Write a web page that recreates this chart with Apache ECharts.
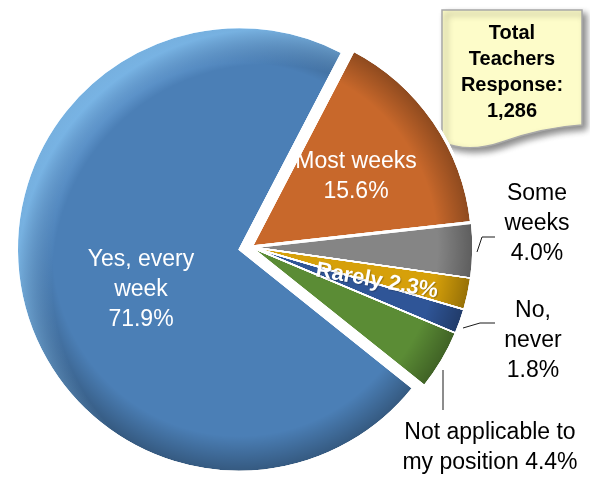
<!DOCTYPE html>
<html>
<head>
<meta charset="utf-8">
<script src="https://cdn.jsdelivr.net/npm/echarts@6/dist/echarts.min.js"></script>
<style>
  html, body { margin: 0; padding: 0; background: #ffffff; }
  #chart { width: 590px; height: 478px; }
</style>
</head>
<body>
<div id="chart"></div>
<script>
// Survey answers, listed clockwise from the top of the pie
const categories = ['Most weeks', 'Some weeks', 'Rarely', 'No, never', 'Not applicable to my position', 'Yes, every week'];
const shares = [15.6, 4.0, 2.3, 1.8, 4.4, 71.9];
// Label wording, with the line breaks used on the chart
const labelNames = ['Most weeks', 'Some\nweeks', 'Rarely', 'No,\nnever', 'Not applicable to\nmy position', 'Yes, every\nweek'];
const labelJoin = ['\n', '\n', ' ', '\n', ' ', '\n'];
// Call-out note text
const totalLines = ['Total', 'Teachers', 'Response:', '1,286'];

// ---- styling / layout ----
const sliceColors = ['#c8682b', '#858585', '#d6a00a', '#2f5597', '#5b8c35', '#4b7fb6'];
const CX = 251, CY = 247, R = 222;
const START = 62.5;          // degrees, echarts convention (ccw from 3 o'clock)
const EXPLODE = 12;          // pull-out distance of the big slice
const explodedIndex = 5;
const FONT = '"Liberation Sans", Arial, sans-serif';
const labelSpots = [
  { x: 356, y: 177, color: '#ffffff' },
  { x: 537, y: 224, color: '#000000', line: [[477, 252], [482, 237], [495, 237]] },
  { x: 377, y: 281, color: '#ffffff', bold: true, rotate: -10 },
  { x: 533, y: 341, color: '#000000', line: [[463, 328], [480, 323], [495, 323]] },
  { x: 490, y: 448, color: '#000000', line: [[443, 370], [443, 390], [443, 410]] },
  { x: 141, y: 290, color: '#ffffff' }
];

// centre of the pulled-out slice: shift along its mid angle
const total = shares.reduce((a, b) => a + b, 0);
const before = shares.slice(0, explodedIndex).reduce((a, b) => a + b, 0);
const midDeg = START - (before + shares[explodedIndex] / 2) / total * 360;
const EX = CX + Math.cos(midDeg * Math.PI / 180) * EXPLODE;
const EY = CY - Math.sin(midDeg * Math.PI / 180) * EXPLODE;

// Note-paper outline with a wavy bottom edge
const NoteShape = echarts.graphic.extendShape({
  shape: { x: 0, y: 0, width: 0, height: 0 },
  buildPath: function (ctx, s) {
    const l = s.x, t = s.y, r = s.x + s.width, b = s.y + s.height;
    ctx.moveTo(l, t);
    ctx.lineTo(r, t);
    ctx.lineTo(r, b - 22);
    ctx.bezierCurveTo(r - 30, b - 20, r - 55, b - 14, r - 80, b - 5);
    ctx.bezierCurveTo(r - 100, b + 2, r - 122, b + 3, l, b - 5);
    ctx.closePath();
  }
});
echarts.graphic.registerShape('noteShape', NoteShape);

function radial(x, y, r, stops) {
  return { type: 'radial', x: x, y: y, r: r, global: true,
    colorStops: stops.map(s => ({ offset: s[0], color: s[1] })) };
}
const CLEAR = 'rgba(0,0,0,0)';
function borderOf(i) { return i === 0 ? 3 : 1.5; }

// Fill for slice i in each shading layer, given the slice's own centre
const layers = [
  (i, cx, cy) => sliceColors[i],
  (i, cx, cy) => radial(cx, cy, R, [[0, CLEAR], [0.84, CLEAR], [1, 'rgba(0,0,0,0.30)']]),
  (i, cx, cy) => i === explodedIndex
    ? radial(cx + 28, cy + 30, R + 28, [[0, 'rgba(140,200,255,0)'], [0.86, 'rgba(140,200,255,0)'], [1, 'rgba(140,205,255,0.75)']])
    : CLEAR
];

function labelOption(i) {
  const s = labelSpots[i];
  return {
    show: true,
    position: 'outside',
    fontFamily: FONT,
    fontSize: s.bold ? 22 : 23,
    fontWeight: s.bold ? 'bold' : 'normal',
    lineHeight: 30,
    color: s.color,
    textShadowColor: s.bold ? 'rgba(0,0,0,0.25)' : 'transparent',
    textShadowBlur: s.bold ? 1 : 0,
    textShadowOffsetX: s.bold ? 1 : 0,
    textShadowOffsetY: s.bold ? 1 : 0,
    formatter: p => labelNames[p.dataIndex] + labelJoin[p.dataIndex] + p.value.toFixed(1) + '%'
  };
}

// One pie series: either the ring of small slices (pulled=false) or the big slice alone
function pieSeries(layerIdx, pulled, withLabels) {
  const cx = pulled ? EX : CX, cy = pulled ? EY : CY;
  const data = categories.map((name, i) => {
    const mine = (i === explodedIndex) === pulled;
    return {
      name: name, value: shares[i],
      itemStyle: mine
        ? { color: layers[layerIdx](i, cx, cy), borderColor: '#ffffff', borderWidth: borderOf(i) }
        : { color: CLEAR, borderWidth: 0 },
      label: (withLabels && mine) ? labelOption(i) : { show: false },
      labelLine: { show: withLabels && mine && !!labelSpots[i].line }
    };
  });
  return {
    type: 'pie',
    center: [cx, cy],
    radius: R,
    startAngle: START,
    clockwise: true,
    avoidLabelOverlap: false,
    silent: true,
    animation: false,
    emphasis: { disabled: true },
    data: data,
    labelLine: { show: withLabels, length: 5, length2: 5, smooth: false, lineStyle: { color: '#1a1a1a', width: 1 } },
    labelLayout: withLabels ? function (p) {
      const s = labelSpots[p.dataIndex];
      const o = { x: s.x, y: s.y, align: 'center', verticalAlign: 'middle' };
      if (s.rotate) o.rotate = s.rotate;
      if (s.line) o.labelLinePoints = s.line;
      return o;
    } : null
  };
}

const series = [];
layers.forEach((f, li) => {
  const last = li === layers.length - 1;
  series.push(pieSeries(li, true, last));
  series.push(pieSeries(li, false, last));
});

const chart = echarts.init(document.getElementById('chart'), null, { renderer: 'canvas' });
chart.setOption({
  animation: false,
  backgroundColor: '#ffffff',
  series: series,
  graphic: [{
    type: 'group',
    children: [
      {
        type: 'noteShape',
        shape: { x: 442, y: 10, width: 140, height: 137 },
        style: {
          fill: '#fdfcc9', stroke: '#a8a8a8', lineWidth: 1.5,
          shadowBlur: 6, shadowOffsetX: 4, shadowOffsetY: 4, shadowColor: 'rgba(0,0,0,0.45)'
        }
      },
      {
        type: 'text',
        x: 512, y: 72,
        style: {
          text: totalLines.join('\n'),
          font: 'bold 20px ' + FONT,
          lineHeight: 26,
          fill: '#000000',
          align: 'center', verticalAlign: 'middle',
          textAlign: 'center', textVerticalAlign: 'middle'
        }
      }
    ]
  }]
});
</script>
</body>
</html>
